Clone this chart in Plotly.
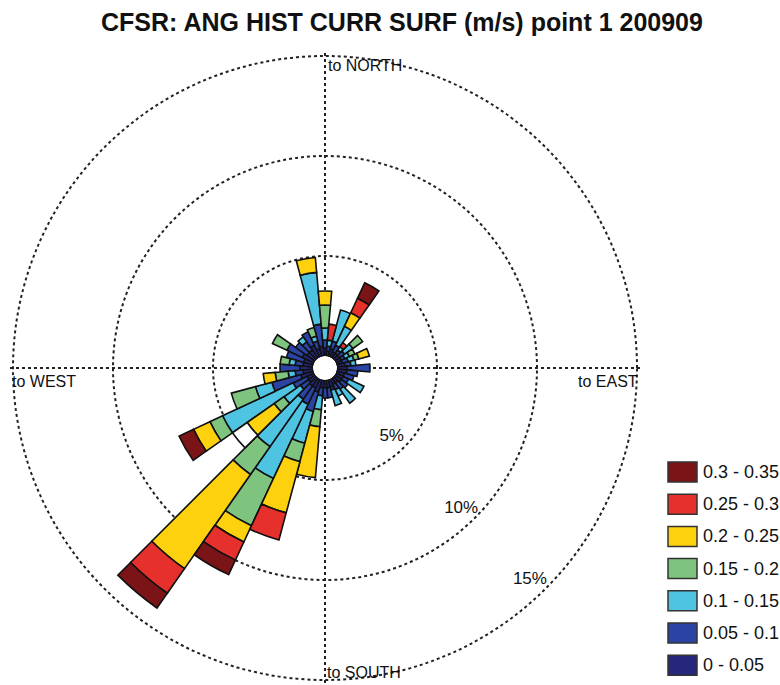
import plotly.graph_objects as go

# Direction bins (degrees, "going to"), 10-degree sectors
directions = list(range(0, 360, 10))

# Speed classes (m/s) and their colours
speed_classes = ["0 - 0.05", "0.05 - 0.1", "0.1 - 0.15", "0.15 - 0.2",
                 "0.2 - 0.25", "0.25 - 0.3", "0.3 - 0.35"]
class_colors = ["#25277a", "#2b44a4", "#4fc3e2", "#7ec47f",
                "#fdd10d", "#e5302b", "#7b1416"]

# Occurrence (%) of each speed class for every direction bin, 0..350 deg
freq_0_005 = [0.40, 0.25, 0.40, 0.30, 0.30, 0.30, 0.30, 0.30, 0.40, 0.50,
              0.50, 0.40, 0.40, 0.40, 0.30, 0.30, 0.40, 0.40, 0.40, 0.40,
              0.65, 0.50, 0.50, 0.40, 0.40, 0.65, 0.50, 0.65, 0.50, 0.50,
              0.65, 0.50, 0.50, 0.65, 0.40, 0.50]
freq_005_01 = [0.40, 0.25, 0.40, 0.35, 0.20, 0.30, 0.20, 0.30, 0.30, 1.15,
               0.55, 0.50, 0.30, 0.40, 0.40, 0.30, 0.15, 0.50, 0.50, 0.40,
               1.00, 0.90, 0.80, 0.50, 0.75, 1.50, 0.40, 1.00, 0.40, 0.90,
               0.85, 0.70, 0.50, 0.75, 0.40, 1.10]
freq_01_015 = [0.60, 0.30, 1.60, 1.05, 0.20, 0.50, 0.25, 0.30, 0.25, 0.00,
               0.00, 0.00, 0.85, 0.00, 0.85, 0.35, 0.80, 0.00, 0.00, 0.70,
               1.65, 4.10, 2.90, 1.00, 3.90, 0.85, 0.35, 0.00, 0.30, 0.00,
               0.00, 0.00, 0.30, 0.00, 0.25, 2.60]
freq_015_02 = [1.15, 0.00, 0.00, 0.00, 0.00, 0.60, 0.30, 0.25, 0.00, 0.00,
               0.00, 0.00, 0.00, 0.00, 0.00, 0.00, 0.00, 0.00, 0.00, 0.85,
               0.95, 2.60, 1.70, 0.60, 0.70, 1.25, 0.65, 0.00, 0.45, 0.00,
               0.80, 0.00, 0.00, 0.00, 0.45, 0.00]
freq_02_025 = [0.70, 0.00, 0.00, 0.75, 0.00, 0.00, 0.00, 0.55, 0.00, 0.00,
               0.00, 0.00, 0.00, 0.00, 0.00, 0.00, 0.00, 0.00, 0.00, 2.55,
               2.65, 0.90, 5.75, 1.65, 0.90, 0.00, 0.60, 0.00, 0.00, 0.00,
               0.00, 0.00, 0.00, 0.00, 0.00, 0.75]
freq_025_03 = [0.00, 0.80, 0.00, 0.80, 0.25, 0.00, 0.00, 0.00, 0.00, 0.00,
               0.00, 0.00, 0.00, 0.00, 0.00, 0.00, 0.00, 0.00, 0.00, 0.00,
               1.40, 1.00, 1.50, 0.00, 0.00, 0.00, 0.00, 0.00, 0.00, 0.00,
               0.00, 0.00, 0.00, 0.00, 0.00, 0.00]
freq_03_035 = [0.00, 0.00, 0.00, 0.85, 0.00, 0.00, 0.00, 0.00, 0.00, 0.00,
               0.00, 0.00, 0.00, 0.00, 0.00, 0.00, 0.00, 0.00, 0.00, 0.00,
               0.00, 0.80, 0.90, 0.00, 0.80, 0.00, 0.00, 0.00, 0.00, 0.00,
               0.00, 0.00, 0.00, 0.00, 0.00, 0.00]
# speeds above the top class (drawn unfilled)
freq_above_035 = [0.00] * 23 + [0.90] + [0.00] * 12

class_freqs = [freq_0_005, freq_005_01, freq_01_015, freq_015_02,
               freq_02_025, freq_025_03, freq_03_035]

ring_values = [5, 10, 15]
ring_labels = ["5%", "10%", "15%"]
compass_labels = ["to NORTH", "to EAST", "to SOUTH", "to WEST"]

W, H = 780, 685
FONT = "Liberation Sans, Arial, sans-serif"
R_MAX = 15.2          # radial range end, just past the outer ring


def px(x):
    return x / W


def py(y):
    return 1 - y / H


fig = go.Figure()

for name, color, vals in zip(speed_classes, class_colors, class_freqs):
    fig.add_trace(go.Barpolar(
        r=vals, theta=directions, width=10, name=name,
        marker=dict(color=color, line=dict(color="#111111", width=1.6)),
        showlegend=False,
    ))

fig.add_trace(go.Barpolar(
    r=freq_above_035, theta=directions, width=10, name="> 0.35",
    marker=dict(color="#ffffff", line=dict(color="#111111", width=1.6)),
    showlegend=False,
))

# ring percentage labels along the south-east diagonal
fig.add_trace(go.Scatterpolar(
    r=[4.2, 9.2, 14.15], theta=[136, 136, 136], mode="text",
    text=ring_labels, textfont=dict(family=FONT, size=17, color="#111111"),
    showlegend=False, hoverinfo="skip",
))

# plot centre and pixel radii: hole 12 px, 20 px per percent
cx, cy, hole_px, px_per_pct = 325, 368, 12, 20
R = hole_px + px_per_pct * R_MAX
fig.update_layout(
    width=W, height=H,
    margin=dict(l=0, r=0, t=0, b=0),
    paper_bgcolor="white",
    plot_bgcolor="white",
    font=dict(family=FONT, color="#111111"),
    polar=dict(
        domain=dict(x=[px(cx - R), px(cx + R)], y=[py(cy + R), py(cy - R)]),
        bgcolor="white",
        hole=hole_px / R,
        barmode="stack",
        radialaxis=dict(
            range=[0, R_MAX], tickvals=ring_values, showticklabels=False,
            ticks="", showline=False, showgrid=True,
            gridcolor="#222222", gridwidth=1.7, griddash="dot",
        ),
        angularaxis=dict(
            rotation=90, direction="clockwise",
            tickvals=[0, 90, 180, 270], showticklabels=False, ticks="",
            showline=False, showgrid=True,
            gridcolor="#222222", gridwidth=1.7, griddash="dot",
        ),
    ),
)

annotations = [
    dict(text="<b>CFSR: ANG HIST CURR SURF (m/s) point 1 200909</b>",
         x=px(402), y=py(22), xanchor="center", yanchor="middle",
         font=dict(size=25, family=FONT, color="#111111")),
    dict(text=compass_labels[0], x=px(326), y=py(65), xanchor="left",
         yanchor="middle", font=dict(size=16)),
    dict(text=compass_labels[1], x=px(640), y=py(381), xanchor="right",
         yanchor="middle", font=dict(size=16)),
    dict(text=compass_labels[2], x=px(325), y=py(672), xanchor="left",
         yanchor="middle", font=dict(size=16)),
    dict(text=compass_labels[3], x=px(10), y=py(381), xanchor="left",
         yanchor="middle", font=dict(size=16)),
]

# legend: boxes and labels, highest class on top
shapes = []
legend_top, legend_step = 472, 32.2
for i, (name, color) in enumerate(zip(speed_classes[::-1], class_colors[::-1])):
    yc = legend_top + i * legend_step
    shapes.append(dict(
        type="rect", xref="paper", yref="paper",
        x0=px(668), x1=px(697), y0=py(yc + 10), y1=py(yc - 10),
        fillcolor=color, line=dict(color="#333333", width=1.5),
    ))
    annotations.append(dict(
        text=name, x=px(701), y=py(yc), xanchor="left", yanchor="middle",
        font=dict(size=18, family=FONT, color="#111111"),
    ))

for a in annotations:
    a.update(xref="paper", yref="paper", showarrow=False)

fig.update_layout(annotations=annotations, shapes=shapes)

fig.write_html("out.html")
